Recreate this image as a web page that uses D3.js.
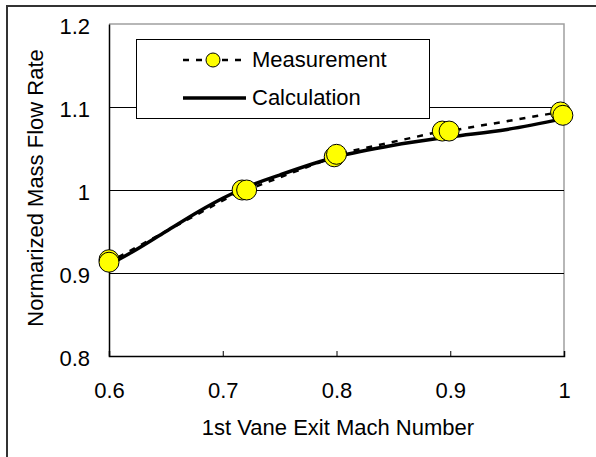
<!DOCTYPE html>
<html>
<head>
<meta charset="utf-8">
<script src="https://cdn.jsdelivr.net/npm/d3@7"></script>
<style>
  body { margin: 0; background: #fff; }
  svg text { font-family: "Liberation Sans", Arial, sans-serif; fill: #000; }
</style>
</head>
<body>
<svg width="596" height="457"></svg>
<script>
// measured points (pairs of near-duplicate runs)
var measMach = [0.6, 0.6, 0.717, 0.721, 0.798, 0.8, 0.893, 0.899, 0.997, 0.999];
var measFlow = [0.916, 0.913, 1.0, 1.0, 1.040, 1.043, 1.071, 1.071, 1.094, 1.090];
// calculation curve
var calcMach = [0.6, 0.62, 0.65, 0.68, 0.7, 0.72, 0.75, 0.8, 0.85, 0.9, 0.95, 1.0];
var calcFlow = [0.91, 0.925, 0.95, 0.975, 0.99, 1.003, 1.018, 1.04, 1.054, 1.064, 1.073, 1.086];
var xTicks = [0.6, 0.7, 0.8, 0.9, 1.0];
var yTicks = [0.8, 0.9, 1.0, 1.1, 1.2];

var svg = d3.select("svg");
var pl = 109, pr = 564, pt = 24, pb = 356;

var x = d3.scaleLinear().domain([0.6, 1.0]).range([pl, pr]);
var y = d3.scaleLinear().domain([0.8, 1.2]).range([pb, pt]);

// outer frame
svg.append("rect")
  .attr("x", 7).attr("y", 6).attr("width", 620).attr("height", 500)
  .style("fill", "none").style("stroke", "#333").style("stroke-width", 2);

// plot area border (grey top/right)
svg.append("path")
  .attr("d", "M" + pl + "," + pt + "H" + pr + "V" + pb)
  .style("fill", "none").style("stroke", "#a0a0a0").style("stroke-width", 1.5);

// gridlines
svg.append("g").selectAll("line")
  .data(yTicks.filter(function(d){ return d > 0.8 && d < 1.2; }))
  .join("line")
  .attr("x1", pl).attr("x2", pr)
  .attr("y1", function(d){ return Math.round(y(d)) + 0.5; })
  .attr("y2", function(d){ return Math.round(y(d)) + 0.5; })
  .style("stroke", "#000").style("stroke-width", 1);

var fmt = function(d){ return d === 1 ? "1" : d3.format(".1f")(d); };

// axes
var yAxis = svg.append("g")
  .attr("transform", "translate(" + pl + ",0)")
  .call(d3.axisLeft(y).tickValues(yTicks).tickSize(0).tickPadding(19).tickFormat(fmt));
var xAxis = svg.append("g")
  .attr("transform", "translate(0," + pb + ")")
  .call(d3.axisBottom(x).tickValues(xTicks).tickSize(-5).tickPadding(26).tickFormat(fmt));

[yAxis, xAxis].forEach(function(g){
  g.select(".domain").style("stroke", "#000").style("stroke-width", 1.5);
  g.selectAll(".tick line").style("stroke", "#000");
  g.selectAll("text").style("font-size", "22px").style("font-family", "Liberation Sans, Arial, sans-serif");
});
yAxis.selectAll("text").attr("dy", "0.45em");
xAxis.selectAll(".tick line").filter(function(d){ return d === 0.6; }).remove();

// axis titles
svg.append("text")
  .attr("x", 338).attr("y", 435)
  .attr("text-anchor", "middle")
  .style("font-size", "22px")
  .text("1st Vane Exit Mach Number");
svg.append("text")
  .attr("transform", "translate(43,188) rotate(-90)")
  .attr("text-anchor", "middle")
  .style("font-size", "22px")
  .text("Normarized Mass Flow Rate");

// lines
var calc = calcMach.map(function(m, i){ return [m, calcFlow[i]]; });
var meas = measMach.map(function(m, i){ return [m, measFlow[i]]; });
var line = d3.line().x(function(d){ return x(d[0]); }).y(function(d){ return y(d[1]); });

svg.append("path").datum(meas).attr("d", line)
  .style("fill", "none").style("stroke", "#000").style("stroke-width", 2.5)
  .style("stroke-dasharray", "6,7");
svg.append("path").datum(calc).attr("d", d3.line().curve(d3.curveMonotoneX)
    .x(function(d){ return x(d[0]); }).y(function(d){ return y(d[1]); }))
  .style("fill", "none").style("stroke", "#000").style("stroke-width", 3.5);

svg.append("g").selectAll("circle")
  .data(meas).join("circle")
  .attr("cx", function(d){ return x(d[0]); })
  .attr("cy", function(d){ return y(d[1]); })
  .attr("r", 10)
  .style("fill", "#ffff00").style("stroke", "#000").style("stroke-width", 1);

// legend
var lg = svg.append("g");
lg.append("rect")
  .attr("x", 136.5).attr("y", 39.5).attr("width", 293).attr("height", 79)
  .style("fill", "#fff").style("stroke", "#000").style("stroke-width", 1);
lg.append("line").attr("x1", 183).attr("x2", 242).attr("y1", 60).attr("y2", 60)
  .style("stroke", "#000").style("stroke-width", 2.5).style("stroke-dasharray", "6,7");
lg.append("circle").attr("cx", 213).attr("cy", 60).attr("r", 7)
  .style("fill", "#ffff00").style("stroke", "#000").style("stroke-width", 1);
lg.append("text").attr("x", 252).attr("y", 67).style("font-size", "22px").text("Measurement");
lg.append("line").attr("x1", 183).attr("x2", 246).attr("y1", 98).attr("y2", 98)
  .style("stroke", "#000").style("stroke-width", 3.5);
lg.append("text").attr("x", 252).attr("y", 105).style("font-size", "22px").text("Calculation");
</script>
</body>
</html>
